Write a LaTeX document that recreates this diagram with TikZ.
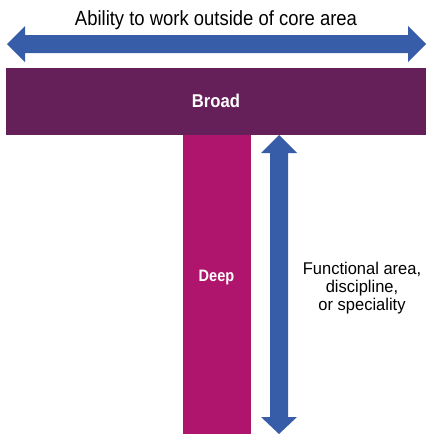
\documentclass[tikz,border=0pt]{standalone}
\usepackage{fontspec}
\setmainfont{Liberation Sans}
\definecolor{arrowblue}{HTML}{385DA8}
\definecolor{broadpurple}{HTML}{65205A}
\definecolor{deepmagenta}{HTML}{AF156C}
\begin{document}
\begin{tikzpicture}[x=1pt,y=-1pt,
  arrowfill/.style={fill=arrowblue,draw=none},
  whitelabel/.style={text=white,inner sep=0pt},
  plainlabel/.style={text=black,inner sep=0pt,align=center}]
\useasboundingbox (0,0) rectangle (430,434);
% horizontal double arrow
\fill[arrowfill] (7,44) -- (25,26) -- (25,35) -- (408,35) -- (408,26) -- (426,44)
  -- (408,62) -- (408,53) -- (25,53) -- (25,62) -- cycle;
\node[plainlabel,anchor=base] (ability) at (216,25)
  {\scalebox{0.9}[1]{\fontsize{20.5}{24}\selectfont Ability to work outside of core area}};
% broad bar
\fill[broadpurple] (6,68) rectangle (426,135);
\node[whitelabel] (broad) at (216,101)
  {\scalebox{0.9}[1]{\bfseries\fontsize{18.5}{20}\selectfont Broad}};
% deep bar
\fill[deepmagenta] (183,135) rectangle (251,434);
\node[whitelabel] (deep) at (216.5,278)
  {\scalebox{0.88}[1]{\bfseries\fontsize{16.5}{18}\selectfont Deep}};
% vertical double arrow
\fill[arrowfill] (279,135) -- (297,153) -- (288,153) -- (288,417) -- (297,417) -- (279,434)
  -- (261,417) -- (270,417) -- (270,153) -- (261,153) -- cycle;
\node[plainlabel] (func) at (362,289)
  {\scalebox{0.97}[1]{\fontsize{17}{18}\selectfont\begin{tabular}{@{}c@{}}Functional area,\\discipline,\\or speciality\end{tabular}}};
\end{tikzpicture}
\end{document}
